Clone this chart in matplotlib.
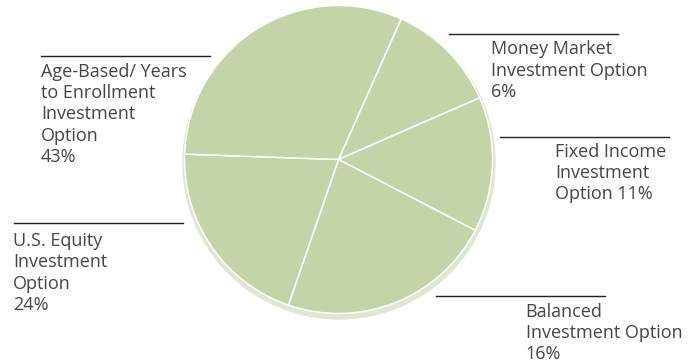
import matplotlib
matplotlib.use("Agg")
import matplotlib.pyplot as plt
from matplotlib.patches import Circle

# slice order runs clockwise from the top-right cut
names = ["Money Market", "Fixed Income", "Balanced", "U.S. Equity", "Age-Based"]
label_pct = ["6%", "11%", "16%", "24%", "43%"]
# slice sizes as drawn in the picture (degrees of arc)
slice_deg = [42.4, 51.0, 81.6, 73.0, 112.0]

label_lines = [
    ["Money Market", "Investment Option", "6%"],
    ["Fixed Income", "Investment", "Option 11%"],
    ["Balanced", "Investment Option", "16%"],
    ["U.S. Equity", "Investment", "Option", "24%"],
    ["Age-Based/ Years", "to Enrollment", "Investment", "Option", "43%"],
]

W, H = 700, 362
fig = plt.figure(figsize=(7, 3.62), dpi=100)
ax = fig.add_axes([0, 0, 1, 1])

cx, cy, r = 338.5, H - 159.5, 154

# soft shadow behind the pie
ax.add_patch(Circle((cx + 0.5, cy - 3.5), r + 2, color="#dfe7d3", zorder=1))

wedges, _ = ax.pie(slice_deg, center=(cx, cy), radius=r, startangle=66,
                   counterclock=False, colors=["#c4d4a9"] * 5,
                   wedgeprops=dict(edgecolor="white", linewidth=1.1))
for w in wedges:
    w.set_zorder(2)

# (rule x0, rule x1, rule y, text x, first baseline) in pixels from top-left
spots = [
    (449, 618, 34.3, 491, 54.5),
    (500, 669, 136.7, 555, 156.7),
    (436, 605, 295.7, 525.7, 316.7),
    (14, 183, 223.3, 13, 246),
    (41, 210, 55.7, 41, 76.7),
]
for (x0, x1, ry, tx, by), lines in zip(spots, label_lines):
    ax.plot([x0, x1], [H - ry, H - ry], color="#222222", lw=1, zorder=3)
    for i, s in enumerate(lines):
        ax.text(tx, H - (by + i * 21.3), s, fontsize=13, family="Open Sans",
                color="#454545", va="baseline", ha="left")

ax.set_xlim(0, W)
ax.set_ylim(0, H)
ax.set_aspect("auto")
ax.axis("off")
fig.savefig("out.png", dpi=100)
